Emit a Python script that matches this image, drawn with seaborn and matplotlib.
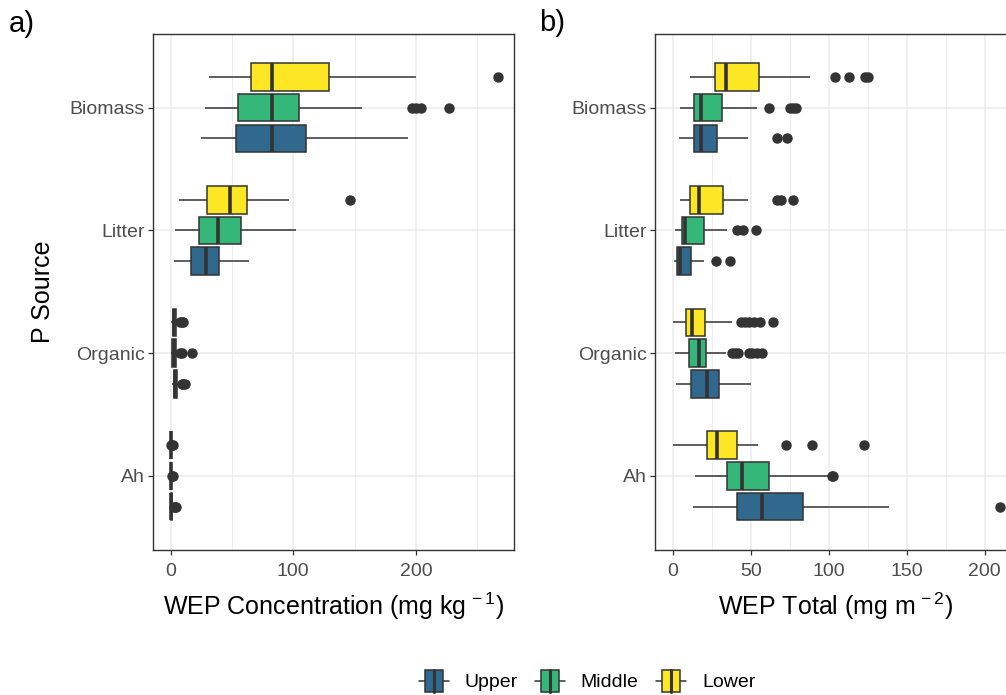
import numpy as np
import pandas as pd
import matplotlib
matplotlib.use('Agg')
import matplotlib.pyplot as plt
from matplotlib.ticker import MultipleLocator
from matplotlib.legend_handler import HandlerBase
from matplotlib.patches import Rectangle, Patch
from matplotlib.lines import Line2D
import seaborn as sns

# categories and positions (row order of the box lists below)
sources = ['Biomass', 'Litter', 'Organic', 'Ah']
positions = ['Upper', 'Middle', 'Lower']
box_source = ['Biomass'] * 3 + ['Litter'] * 3 + ['Organic'] * 3 + ['Ah'] * 3
box_position = ['Upper', 'Middle', 'Lower'] * 4

# panel a) WEP concentration, box summaries
conc_lo = [24.5, 28, 31.2, 2.7, 3.8, 7, 1, 0.5, 0.5, 0, 0, 0]
conc_q1 = [53.3, 54.9, 65.2, 16.8, 23.1, 29.9, 2.5, 1.5, 2, 0.2, 0.1, 0.05]
conc_med = [82.6, 82.4, 82.4, 28.8, 38.3, 48.4, 3.5, 2.5, 3, 0.5, 0.3, 0.1]
conc_q3 = [110.1, 104.9, 129.4, 39.6, 57.3, 62, 5, 4, 4, 0.8, 0.5, 0.2]
conc_hi = [193.3, 156, 200, 63.6, 102, 96.2, 6.5, 5.5, 5, 1.5, 0.8, 0.3]
conc_out = [[], [197, 200, 204, 227], [267],
            [], [], [146.5],
            [9, 10, 12], [8, 9.5, 17], [8, 9, 10],
            [2.5, 3.5, 4.5], [1.2, 2.0], [0.6, 1.0, 2.0]]

# panel b) WEP total
tot_lo = [4, 4.7, 10.9, 1, 1.3, 4.9, 1.9, 1.7, 0.2, 13.2, 14.1, 0]
tot_q1 = [13.7, 13.5, 27.3, 3, 6.2, 10.9, 11.9, 10.6, 8.5, 41.4, 34.8, 22.2]
tot_med = [17.9, 18.1, 34.2, 4.7, 7.7, 16.9, 22, 16.9, 12.6, 57, 44.4, 28.6]
tot_q3 = [28.4, 31.8, 55.5, 11.7, 19.9, 32, 29.5, 21.2, 20.7, 83.3, 61.5, 41]
tot_hi = [48.5, 54.2, 87.8, 20.3, 34.6, 48.3, 50, 34.2, 37.8, 138.8, 100.5, 54.5]
tot_out = [[67, 73.5], [61.7, 75, 77, 79], [104, 113, 123, 125],
           [28, 37], [41.5, 45, 53.5], [67, 69.5, 77],
           [], [38, 40, 42, 49, 51, 54, 57], [44, 46.5, 49, 52, 56, 64.5],
           [210], [102, 103], [72.5, 89.5, 122.5]]

colors = {'Upper': '#31688E', 'Middle': '#35B779', 'Lower': '#FDE725'}


def long_table(lo, q1, med, q3, hi, out):
    # sample whose quartiles / whiskers / outliers give back the read summary
    rows = []
    for i in range(len(box_source)):
        vals = [lo[i]] + [q1[i]] * 20 + [med[i]] * 20 + [q3[i]] * 20 + [hi[i]] + out[i]
        for v in vals:
            rows.append((box_source[i], box_position[i], v))
    return pd.DataFrame(rows, columns=['source', 'position', 'value'])


df_conc = long_table(conc_lo, conc_q1, conc_med, conc_q3, conc_hi, conc_out)
df_tot = long_table(tot_lo, tot_q1, tot_med, tot_q3, tot_hi, tot_out)

sns.set_theme(style='white')
plt.rcParams['font.family'] = ['Liberation Sans', 'DejaVu Sans']
plt.rcParams['mathtext.fontset'] = 'custom'
plt.rcParams['mathtext.rm'] = 'Liberation Sans'
plt.rcParams['mathtext.it'] = 'Liberation Sans:italic'
plt.rcParams['text.color'] = 'black'
plt.rcParams['axes.labelcolor'] = 'black'

fig = plt.figure(figsize=(10.06, 6.95), dpi=100)
ax_a = fig.add_axes([153 / 1006, 145.5 / 695, 361 / 1006, 515.5 / 695])
ax_b = fig.add_axes([655 / 1006, 145.5 / 695, 361 / 1006, 515.5 / 695])

dark = '#333333'
for ax, df in [(ax_a, df_conc), (ax_b, df_tot)]:
    sns.boxplot(data=df, x='value', y='source', hue='position', orient='y',
                order=sources, hue_order=['Lower', 'Middle', 'Upper'],
                palette=colors, saturation=1, width=0.75, gap=0.1,
                linecolor=dark, linewidth=1.1, fliersize=6.5, capwidths=0,
                flierprops={'marker': 'o', 'markerfacecolor': dark,
                            'markeredgecolor': dark},
                medianprops={'linewidth': 2.6},
                legend=False, ax=ax)
    ax.set_ylim(3.6, -0.6)
    ax.set_axisbelow(True)
    ax.grid(which='major', color='#EBEBEB', linewidth=1.1)
    ax.grid(which='minor', axis='x', color='#EBEBEB', linewidth=0.6)
    for s in ax.spines.values():
        s.set_color(dark)
        s.set_linewidth(1.0)
        s.set_visible(True)
    ax.tick_params(which='major', length=3.5, width=0.9, color=dark,
                   labelsize=14, labelcolor='#4D4D4D', pad=2.5,
                   left=True, bottom=True)
    ax.tick_params(axis='x', pad=6)
    ax.tick_params(which='minor', length=0)
    ax.set_ylabel('')

ax_a.set_xlim(-14.4, 280)
ax_a.xaxis.set_major_locator(MultipleLocator(100))
ax_a.xaxis.set_minor_locator(MultipleLocator(50))
ax_b.set_xlim(-11.3, 220)
ax_b.xaxis.set_major_locator(MultipleLocator(50))
ax_b.xaxis.set_minor_locator(MultipleLocator(25))

ax_a.set_xlabel(r'WEP Concentration (mg kg$^{\,-1}$)', fontsize=18, va='top')
ax_a.xaxis.set_label_coords(0.5, -0.08)
ax_b.set_xlabel(r'WEP Total (mg m$^{\,-2}$)', fontsize=18, va='top')
ax_b.xaxis.set_label_coords(0.5, -0.08)
ax_a.set_ylabel('P Source', fontsize=18, va='center')
ax_a.yaxis.set_label_coords(-0.305, 0.5)

fig.text(9 / 1006, 1 - 24 / 695, 'a)', fontsize=21, va='center', ha='left')
fig.text(539 / 1006, 1 - 23 / 695, 'b)', fontsize=21, va='center', ha='left')


class BoxKey(HandlerBase):
    def create_artists(self, legend, orig_handle, xdescent, ydescent,
                       width, height, fontsize, trans):
        x0, y0 = -xdescent, -ydescent
        fc = orig_handle.get_facecolor()
        ym = y0 + height / 2
        whisk = Line2D([x0, x0 + width], [ym, ym], color=dark, lw=1.1)
        box = Rectangle((x0 + 0.2 * width, y0), 0.6 * width, height,
                        facecolor=fc, edgecolor=dark, lw=1.1)
        med = Line2D([x0 + width / 2] * 2, [y0, y0 + height], color=dark, lw=2.2)
        for a in (whisk, box, med):
            a.set_transform(trans)
        return [whisk, box, med]


handles = [Patch(facecolor=colors[p]) for p in positions]
fig.legend(handles, positions, handler_map={Patch: BoxKey()},
           loc='center', bbox_to_anchor=(587 / 1006, 14 / 695), ncol=3,
           frameon=False, fontsize=14, handlelength=1.55, handleheight=1.4,
           handletextpad=0.8, columnspacing=0.9)

fig.savefig('out.png', dpi=100)
